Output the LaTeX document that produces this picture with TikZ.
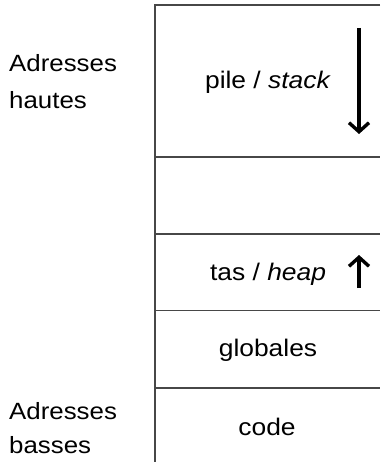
\documentclass[tikz,border=0pt]{standalone}
\usepackage{fontspec}
\setmainfont[FakeStretch=1.1]{Liberation Sans}
\usetikzlibrary{arrows.meta}
\begin{document}
\begin{tikzpicture}[x=1pt,y=-1pt,
  wall/.style={draw=black!72,line width=1.7pt},
  seglabel/.style={anchor=base,font=\fontsize{24}{29}\selectfont,inner sep=0pt},
  sidelabel/.style={anchor=base west,align=left,inner sep=0pt},
  growth/.style={line width=3.4pt,-{Straight Barb[length=9pt,width=20pt]}}]
  \useasboundingbox (0,0) rectangle (380,462);
  % memory column: left wall and segment boundaries
  \coordinate (tl) at (155,5);
  \coordinate (bl) at (155,462);
  \draw[wall] (380,5) -- (tl) -- (bl);
  \foreach \yy/\nm in {157/b1,234/b2,310.5/b3,388/b4}{
    \coordinate (\nm l) at (155,\yy);
    \coordinate (\nm r) at (380,\yy);
    \draw[wall] (\nm l) -- (\nm r);
  }
  % segment names
  \node[seglabel] (stack) at (268,89) {pile / \textit{stack}};
  \node[seglabel] (heap) at (268,280) {tas / \textit{heap}};
  \node[seglabel] (glob) at (268,356) {globales};
  \node[seglabel] (code) at (267,435) {code};
  % growth directions
  \coordinate (sTop) at (359,28);
  \coordinate (sBot) at (359,134);
  \draw[growth] (sTop) -- (sBot);
  \coordinate (hBot) at (359,288);
  \coordinate (hTop) at (359,255);
  \draw[growth] (hBot) -- (hTop);
  % address labels (anchored on the second line)
  \node[sidelabel,font=\fontsize{23.5}{36.6}\selectfont] (high) at (9,108.3) {Adresses\\hautes};
  \node[sidelabel,font=\fontsize{23.5}{34}\selectfont] (low) at (9,453.3) {Adresses\\basses};
\end{tikzpicture}
\end{document}
